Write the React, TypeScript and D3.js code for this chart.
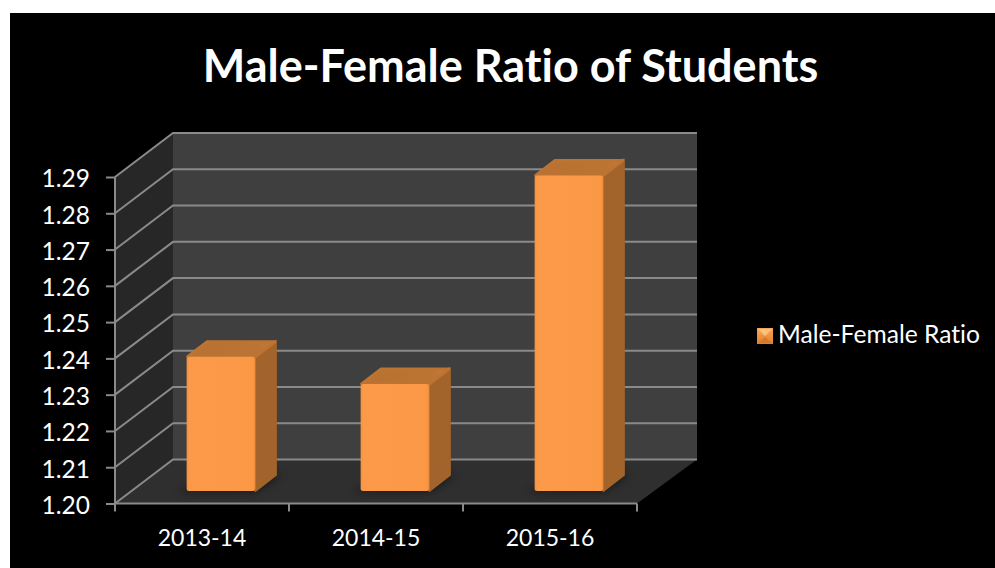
import { useEffect, useRef } from "react";
import { select, scaleLinear, scaleBand, axisLeft, axisBottom, range } from "d3";

const categories = ["2013-14", "2014-15", "2015-16"];
const values = [1.237, 1.2295, 1.287];
const yTicks = [1.2, 1.21, 1.22, 1.23, 1.24, 1.25, 1.26, 1.27, 1.28, 1.29];
const seriesName = "Male-Female Ratio";
const title = "Male-Female Ratio of Students";

const font = "Lato, Carlito, Calibri, sans-serif";
const left = 115;
const right = 637;
const bottom = 503.5;
const depthX = 58;
const depthY = 44;
const lineColor = "#8a8a8a";
// bar sits inside the floor: offset from the front plane and its own depth
const barDx = 19;
const barDy = 12.5;
const barDepthX = 20.5;
const barDepthY = 16;

export default function App() {
  const ref = useRef<SVGGElement>(null);

  const y = scaleLinear().domain([1.2, 1.29]).range([bottom, 177]);
  const x = scaleBand<string>().domain(categories).range([left, right]).paddingInner(0.605).paddingOuter(0.3025);

  useEffect(() => {
    const g = select(ref.current);
    g.selectAll("*").remove();

    const yAxis = axisLeft(y).tickValues(yTicks).tickFormat((d) => (d as number).toFixed(2)).tickSize(9).tickPadding(16);
    const yG = g.append("g").attr("transform", `translate(${left},0)`).call(yAxis as any);
    const xAxis = axisBottom(x).tickSize(0).tickPadding(26);
    const xG = g.append("g").attr("transform", `translate(0,${bottom})`).call(xAxis as any);
    // category ticks sit on the band edges, not the centres
    xG.selectAll("line.edge")
      .data(range(categories.length + 1))
      .join("line")
      .attr("class", "edge")
      .attr("x1", (i) => left + (i * (right - left)) / categories.length)
      .attr("x2", (i) => left + (i * (right - left)) / categories.length)
      .attr("y1", 0)
      .attr("y2", 8);

    [yG, xG].forEach((a) => {
      a.selectAll("line").attr("stroke", lineColor).attr("stroke-width", 2);
      a.select(".domain").attr("stroke", lineColor).attr("stroke-width", 2);
      a.selectAll("text").attr("fill", "#fff").attr("font-family", font);
    });
    yG.selectAll("text").attr("font-size", 24.5).attr("dy", "0.4em");
    xG.selectAll("text").attr("font-size", 23);
    yG.select(".domain").attr("d", `M0,${y(1.29)}V${bottom}`);
    xG.select(".domain").attr("d", `M${left},0H${right}`);
  }, []);

  const backLeft = left + depthX;
  const backRight = right + depthX + 2;
  const backY = (v: number) => y(v) - depthY;

  return (
    <svg
      width={995}
      height={568}
      style={{ position: "absolute", left: 0, top: 0, background: "#fff", fontVariantLigatures: "none" }}
    >
      <defs>
        <filter id="shadow" x="-30%" y="-80%" width="160%" height="260%">
          <feGaussianBlur stdDeviation="4" />
        </filter>
        <linearGradient id="front" x1="0" x2="1" y1="0" y2="0">
          <stop offset="0" stopColor="#f79239" />
          <stop offset="0.04" stopColor="#fb9a4a" />
          <stop offset="0.96" stopColor="#fb9846" />
          <stop offset="1" stopColor="#ee8c38" />
        </linearGradient>
        <linearGradient id="topFace" x1="0" x2="1" y1="0" y2="0">
          <stop offset="0" stopColor="#b87131" />
          <stop offset="0.8" stopColor="#bb7434" />
          <stop offset="1" stopColor="#c67b38" />
        </linearGradient>
        <linearGradient id="legendMark" x1="0" x2="0" y1="0" y2="1">
          <stop offset="0" stopColor="#f8a65c" />
          <stop offset="1" stopColor="#e27f2c" />
        </linearGradient>
      </defs>
      <rect x={10} y={13} width={985} height={555} fill="#000" />
      <text x={510.5} y={82} textAnchor="middle" fill="#fff" fontFamily={font} fontWeight={700} fontSize={45}>
        {title}
      </text>

      <rect x={backLeft} y={backY(1.29)} width={backRight - backLeft} height={backY(1.2) - backY(1.29)} fill="#3f3f3f" />
      <path
        d={`M${left},${y(1.29)}L${backLeft},${backY(1.29)}V${backY(1.2)}L${left},${bottom}Z`}
        fill="#272727"
      />
      <path
        d={`M${left},${bottom}L${backLeft},${backY(1.2)}H${backRight}L${right},${bottom}Z`}
        fill="#2f2f2f"
      />

      {yTicks.map((v) => (
        <path
          key={v}
          d={`M${left},${y(v)}L${backLeft},${backY(v)}H${backRight}`}
          stroke={lineColor}
          strokeWidth={2}
          fill="none"
        />
      ))}

      {categories.map((c, i) => {
        const x0 = x(c)! + barDx;
        const x1 = x0 + x.bandwidth();
        const yb = bottom - barDy;
        const yt = y(values[i]) - barDy;
        return (
          <g key={c}>
            <path
              d={`M${x0 - 8},${yb + 1}L${x1},${yb + 1}L${x1 + barDepthX + 6},${yb - barDepthY}H${x1 + 4}L${x0},${yb - 3}Z`}
              fill="#000"
              opacity={0.5}
              filter="url(#shadow)"
            />
            <path
              d={`M${x1},${yt}L${x1 + barDepthX},${yt - barDepthY}V${yb - barDepthY}L${x1},${yb}Z`}
              fill="#a3642c"
              stroke="#a3642c"
              strokeLinejoin="round"
              strokeWidth={2}
            />
            <path
              d={`M${x0 + 1},${yt}L${x0 + barDepthX},${yt - barDepthY + 1}H${x1 + barDepthX - 1}L${x1},${yt}Z`}
              fill="url(#topFace)"
              stroke="#bd7433"
              strokeLinejoin="round"
              strokeWidth={3}
            />
            <rect x={x0} y={yt} width={x.bandwidth()} height={yb - yt} rx={2.5} fill="url(#front)" />
          </g>
        );
      })}

      <g ref={ref} />

      <g>
        <rect x={757} y={328} width={16} height={16} fill="url(#legendMark)" />
        <path d="M758,329H772L765,336Z" fill="#fbc27a" />
        <path d="M758,343H772L765,337Z" fill="#d9782a" />
        <text x={778} y={343} fill="#fff" fontFamily={font} fontSize={24.6}>
          {seriesName}
        </text>
      </g>
    </svg>
  );
}
